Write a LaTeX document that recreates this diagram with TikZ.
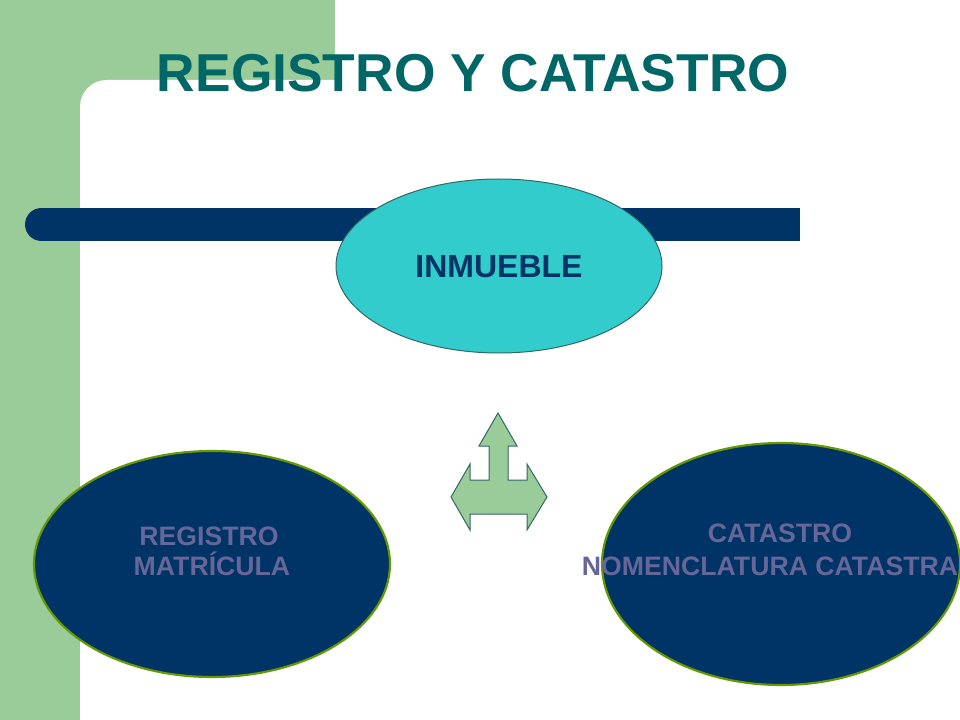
\documentclass[tikz,border=0pt]{standalone}
\usepackage{fontspec}
\setmainfont{Liberation Sans}
\usetikzlibrary{shapes.geometric}
\definecolor{bggreen}{RGB}{153,204,153}
\definecolor{navyblue}{RGB}{0,51,102}
\definecolor{titleteal}{RGB}{0,102,102}
\definecolor{cyanfill}{RGB}{51,204,204}
\definecolor{lavtext}{RGB}{102,102,153}
\definecolor{olivegreen}{RGB}{102,153,0}
\definecolor{arrowline}{RGB}{51,102,102}
\tikzset{
  bigoval/.style={ellipse, fill=navyblue, draw=olivegreen, line width=1.6pt, inner sep=0pt},
  ovaltext/.style={anchor=base, text=lavtext, font=\fontsize{20}{24}\selectfont\bfseries, inner sep=0pt},
}
\begin{document}
\begin{tikzpicture}[x=0.75pt,y=-0.75pt]
\clip (0,0) rectangle (960,720);
\useasboundingbox (0,0) rectangle (960,720);
% background
\fill[white] (0,0) rectangle (960,720);
\fill[bggreen] (0,0) rectangle (335,720);
\fill[white, rounded corners=20pt] (80,80) rectangle (1000,760);
% title
\node[anchor=base, text=titleteal, font=\fontsize{40}{48}\selectfont\bfseries, inner sep=0pt] (title) at (473,92) {REGISTRO Y CATASTRO};
% bar
\fill[navyblue] (41.5,208) rectangle (800,241);
\fill[navyblue] (41.5,224.5) circle[radius=16.5];
% top ellipse
\node[ellipse, fill=cyanfill, draw=arrowline, line width=0.75pt, inner sep=0pt,
      minimum width=244.5pt, minimum height=130.5pt] (inmueble) at (499,266) {};
\node[anchor=base, text=navyblue, font=\fontsize{24}{28}\selectfont\bfseries, inner sep=0pt] (inmuebletext) at (499,278) {INMUEBLE};
% three-way arrow
\filldraw[fill=bggreen, draw=arrowline, line width=0.75pt, line join=miter]
  (498,413) -- (517,446) -- (508,446) -- (508,480) -- (527,480) -- (527,464)
  -- (547,497) -- (527,530) -- (527,514) -- (470,514) -- (470,530) -- (451,497)
  -- (470,464) -- (470,480) -- (489,480) -- (489,446) -- (479,446) -- cycle;
% bottom ellipses
\node[bigoval, minimum width=267pt, minimum height=169.5pt] (registro) at (212,564) {};
\node[ovaltext] (registro1) at (209,545) {REGISTRO};
\node[ovaltext] (registro2) at (212,575) {MATRÍCULA};
\node[bigoval, minimum width=268.5pt, minimum height=181.5pt] (catastro) at (781,564) {};
\node[ovaltext] (catastro1) at (780,542) {CATASTRO};
\node[ovaltext] (catastro2) at (770,575) {NOMENCLATURA CATASTRA};
\end{tikzpicture}
\end{document}
